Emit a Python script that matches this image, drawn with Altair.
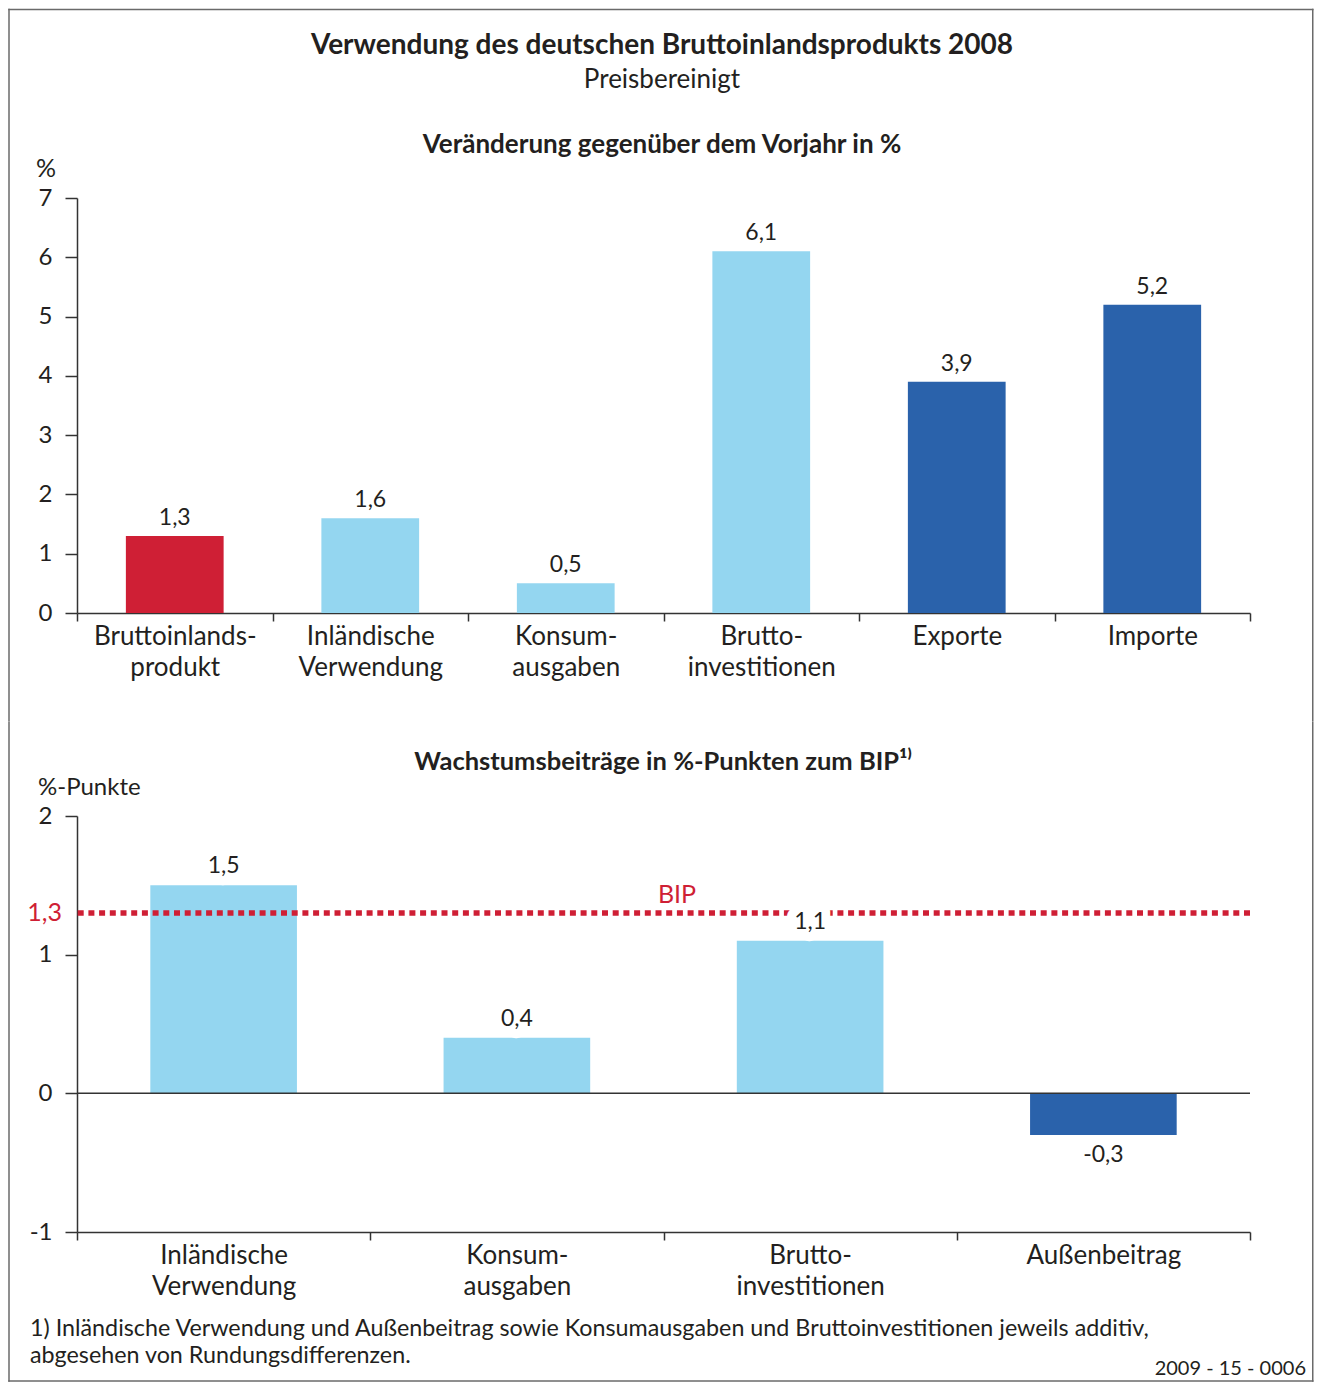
import altair as alt
import pandas as pd

# ---------------- data ----------------
cats1 = ["Bruttoinlands-\nprodukt", "Inländische\nVerwendung", "Konsum-\nausgaben",
         "Brutto-\ninvestitionen", "Exporte", "Importe"]
vals1 = [1.3, 1.6, 0.5, 6.1, 3.9, 5.2]
grp1 = ["BIP", "Inland", "Inland", "Inland", "Außen", "Außen"]

cats2 = ["Inländische\nVerwendung", "Konsum-\nausgaben", "Brutto-\ninvestitionen", "Außenbeitrag"]
vals2 = [1.5, 0.4, 1.1, -0.3]
grp2 = ["Inland", "Inland", "Inland", "Außen"]
bip_value = [1.3]

ticks1 = [0, 1, 2, 3, 4, 5, 6, 7]
ticks2 = [-1, 0, 1, 2]

groups = ["BIP", "Inland", "Außen"]
colors = ["#CF1F35", "#94D6F0", "#2A62AB"]

title = "Verwendung des deutschen Bruttoinlandsprodukts 2008"
subtitle = "Preisbereinigt"
title1 = "Veränderung gegenüber dem Vorjahr in %"
title2 = "Wachstumsbeiträge in %-Punkten zum BIP¹⁾"
ytitle1 = "%"
ytitle2 = "%-Punkte"
bip_label = "BIP"
bip_text = "1,3"
footnote = ["1) Inländische Verwendung und Außenbeitrag sowie Konsumausgaben und Bruttoinvestitionen jeweils additiv,",
            "abgesehen von Rundungsdifferenzen."]
code = "2009 - 15 - 0006"

# ---------------- styling ----------------
FONT = "Lato"
TXT = "#231f20"
AX = "#333333"
RED = "#CF1F35"
FRAME = "#6a6a6a"
HW = 0.75       # half frame width
FL = -68.0      # frame left, relative to plot origin
FR = 1235.75    # frame right, relative to plot origin

df1 = pd.DataFrame({"c": cats1, "v": vals1, "g": grp1})
df2 = pd.DataFrame({"c": cats2, "v": vals2, "g": grp2})
one = pd.DataFrame({"k": [0]})
bipdf = pd.DataFrame({"b": bip_value})

lab_expr = "replace(replace(format(datum.v, '.1f'), '.', ','), '\u2212', '-')"
color = alt.Color("g:N", scale=alt.Scale(domain=groups, range=colors), legend=None)


def xaxis():
    return alt.Axis(title=None, labelAngle=0, tickBand="extent", tickSize=8, labelPadding=2,
                    labelFontSize=26, labelLineHeight=31, labelColor=TXT, labelFont=FONT,
                    labelExpr="split(datum.label, '\\n')", labelLimit=400,
                    domainColor=AX, tickColor=AX, domainWidth=1.5, tickWidth=1.5)


def yaxis(values):
    return alt.Axis(title=None, values=values, format="d", tickSize=12, labelPadding=13,
                    labelFontSize=24, labelColor=TXT, labelFont=FONT, grid=False,
                    labelExpr="replace(datum.label, '\u2212', '-')",
                    domainColor=AX, tickColor=AX, domainWidth=1.5, tickWidth=1.5)


def frect(x1, x2, y1, y2):
    return alt.Chart(one).mark_rect(color=FRAME).encode(
        x=alt.value(x1), x2=alt.value(x2), y=alt.value(y1), y2=alt.value(y2))


def note(text, x, y, size, weight="normal", align="center", col=TXT, baseline="middle", lh=None):
    kw = dict(text=text, fontSize=size, fontWeight=weight, align=align, color=col,
              baseline=baseline, font=FONT)
    if lh is not None:
        kw["lineHeight"] = lh
    return alt.Chart(one).mark_text(**kw).encode(x=alt.value(x), y=alt.value(y))


band_scale = dict(paddingInner=0, paddingOuter=0)
bar_w = alt.RelativeBandSize(0.5)

# ---------------- panel 1 ----------------
x1 = alt.X("c:N", sort=cats1, scale=alt.Scale(**band_scale), axis=xaxis())
y1 = alt.Y("v:Q", scale=alt.Scale(domain=[0, 7], nice=False), axis=yaxis(ticks1))

base1 = alt.Chart(df1).encode(x=x1, y=y1)
bars1 = base1.mark_bar(width=bar_w).encode(color=color)
labels1 = base1.transform_calculate(lab=lab_expr).mark_text(
    baseline="alphabetic", dy=-11, fontSize=23, color=TXT, font=FONT).encode(text="lab:N")

p1 = alt.layer(
    bars1, labels1,
    note(title, 585, -152, 28, "bold"),
    note(subtitle, 585, -118, 26),
    note(title1, 585, -53, 26, "bold"),
    note(ytitle1, -41, -29, 25, align="left"),
    frect(FL - HW, FR + HW, -188.5 - HW, -188.5 + HW),
    frect(FL - HW, FL + HW, -188.5 - HW, 523),
    frect(FR - HW, FR + HW, -188.5 - HW, 523),
).properties(width=1173, height=415)

# ---------------- panel 2 ----------------
x2 = alt.X("c:N", sort=cats2, scale=alt.Scale(**band_scale), axis=xaxis())
y2 = alt.Y("v:Q", scale=alt.Scale(domain=[-1, 2], nice=False), axis=yaxis(ticks2))

base2 = alt.Chart(df2).encode(x=x2, y=y2)
bars2 = base2.mark_bar(width=bar_w).encode(color=color)
zero = alt.Chart(one).mark_rule(color=AX, strokeWidth=1.5).encode(y=alt.datum(0))
bipline = alt.Chart(bipdf).mark_rule(color=RED, strokeWidth=5.5, strokeDash=[6, 4.7]).encode(
    y=alt.Y("b:Q"))
pos = base2.transform_filter("datum.v >= 0").transform_calculate(lab=lab_expr)
neg = base2.transform_filter("datum.v < 0").transform_calculate(lab=lab_expr)
halo = pos.mark_text(baseline="alphabetic", dy=-12, fontSize=23, font=FONT, color="white",
                     stroke="white", strokeWidth=18, strokeJoin="round").encode(text="lab:N")
lpos = pos.mark_text(baseline="alphabetic", dy=-12, fontSize=23, color=TXT, font=FONT).encode(text="lab:N")
lneg = neg.mark_text(baseline="alphabetic", dy=27, fontSize=23, color=TXT, font=FONT).encode(text="lab:N")
bip_t = alt.Chart(bipdf).mark_text(text=bip_text, align="right", baseline="middle", fontSize=25,
                                    color=RED, font=FONT).encode(x=alt.value(-15), y=alt.Y("b:Q"))
bip_l = alt.Chart(bipdf).mark_text(text=bip_label, align="center", baseline="middle", fontSize=25,
                                    color=RED, font=FONT, dy=-18).encode(x=alt.value(600), y=alt.Y("b:Q"))

p2 = alt.layer(
    bars2, zero, bipline, halo, lpos, lneg, bip_t, bip_l,
    note(title2, 586, -54, 25.5, "bold"),
    note(ytitle2, -39, -28, 24, align="left"),
    note(footnote, -47, 502, 23.3, align="left", baseline="top", lh=27),
    note(code, 1229, 553, 20, align="right"),
    frect(FL - HW, FL + HW, -94.75, 565 + HW),
    frect(FR - HW, FR + HW, -94.75, 565 + HW),
    frect(FL - HW, FR + HW, 565 - HW, 565 + HW),
).properties(width=1173, height=416)

chart = alt.vconcat(p1, p2, spacing=0).properties(padding=0).configure_view(
    strokeWidth=0).configure_text(font=FONT)

chart.save("out.html", embed_options={"renderer": "svg", "actions": False})
